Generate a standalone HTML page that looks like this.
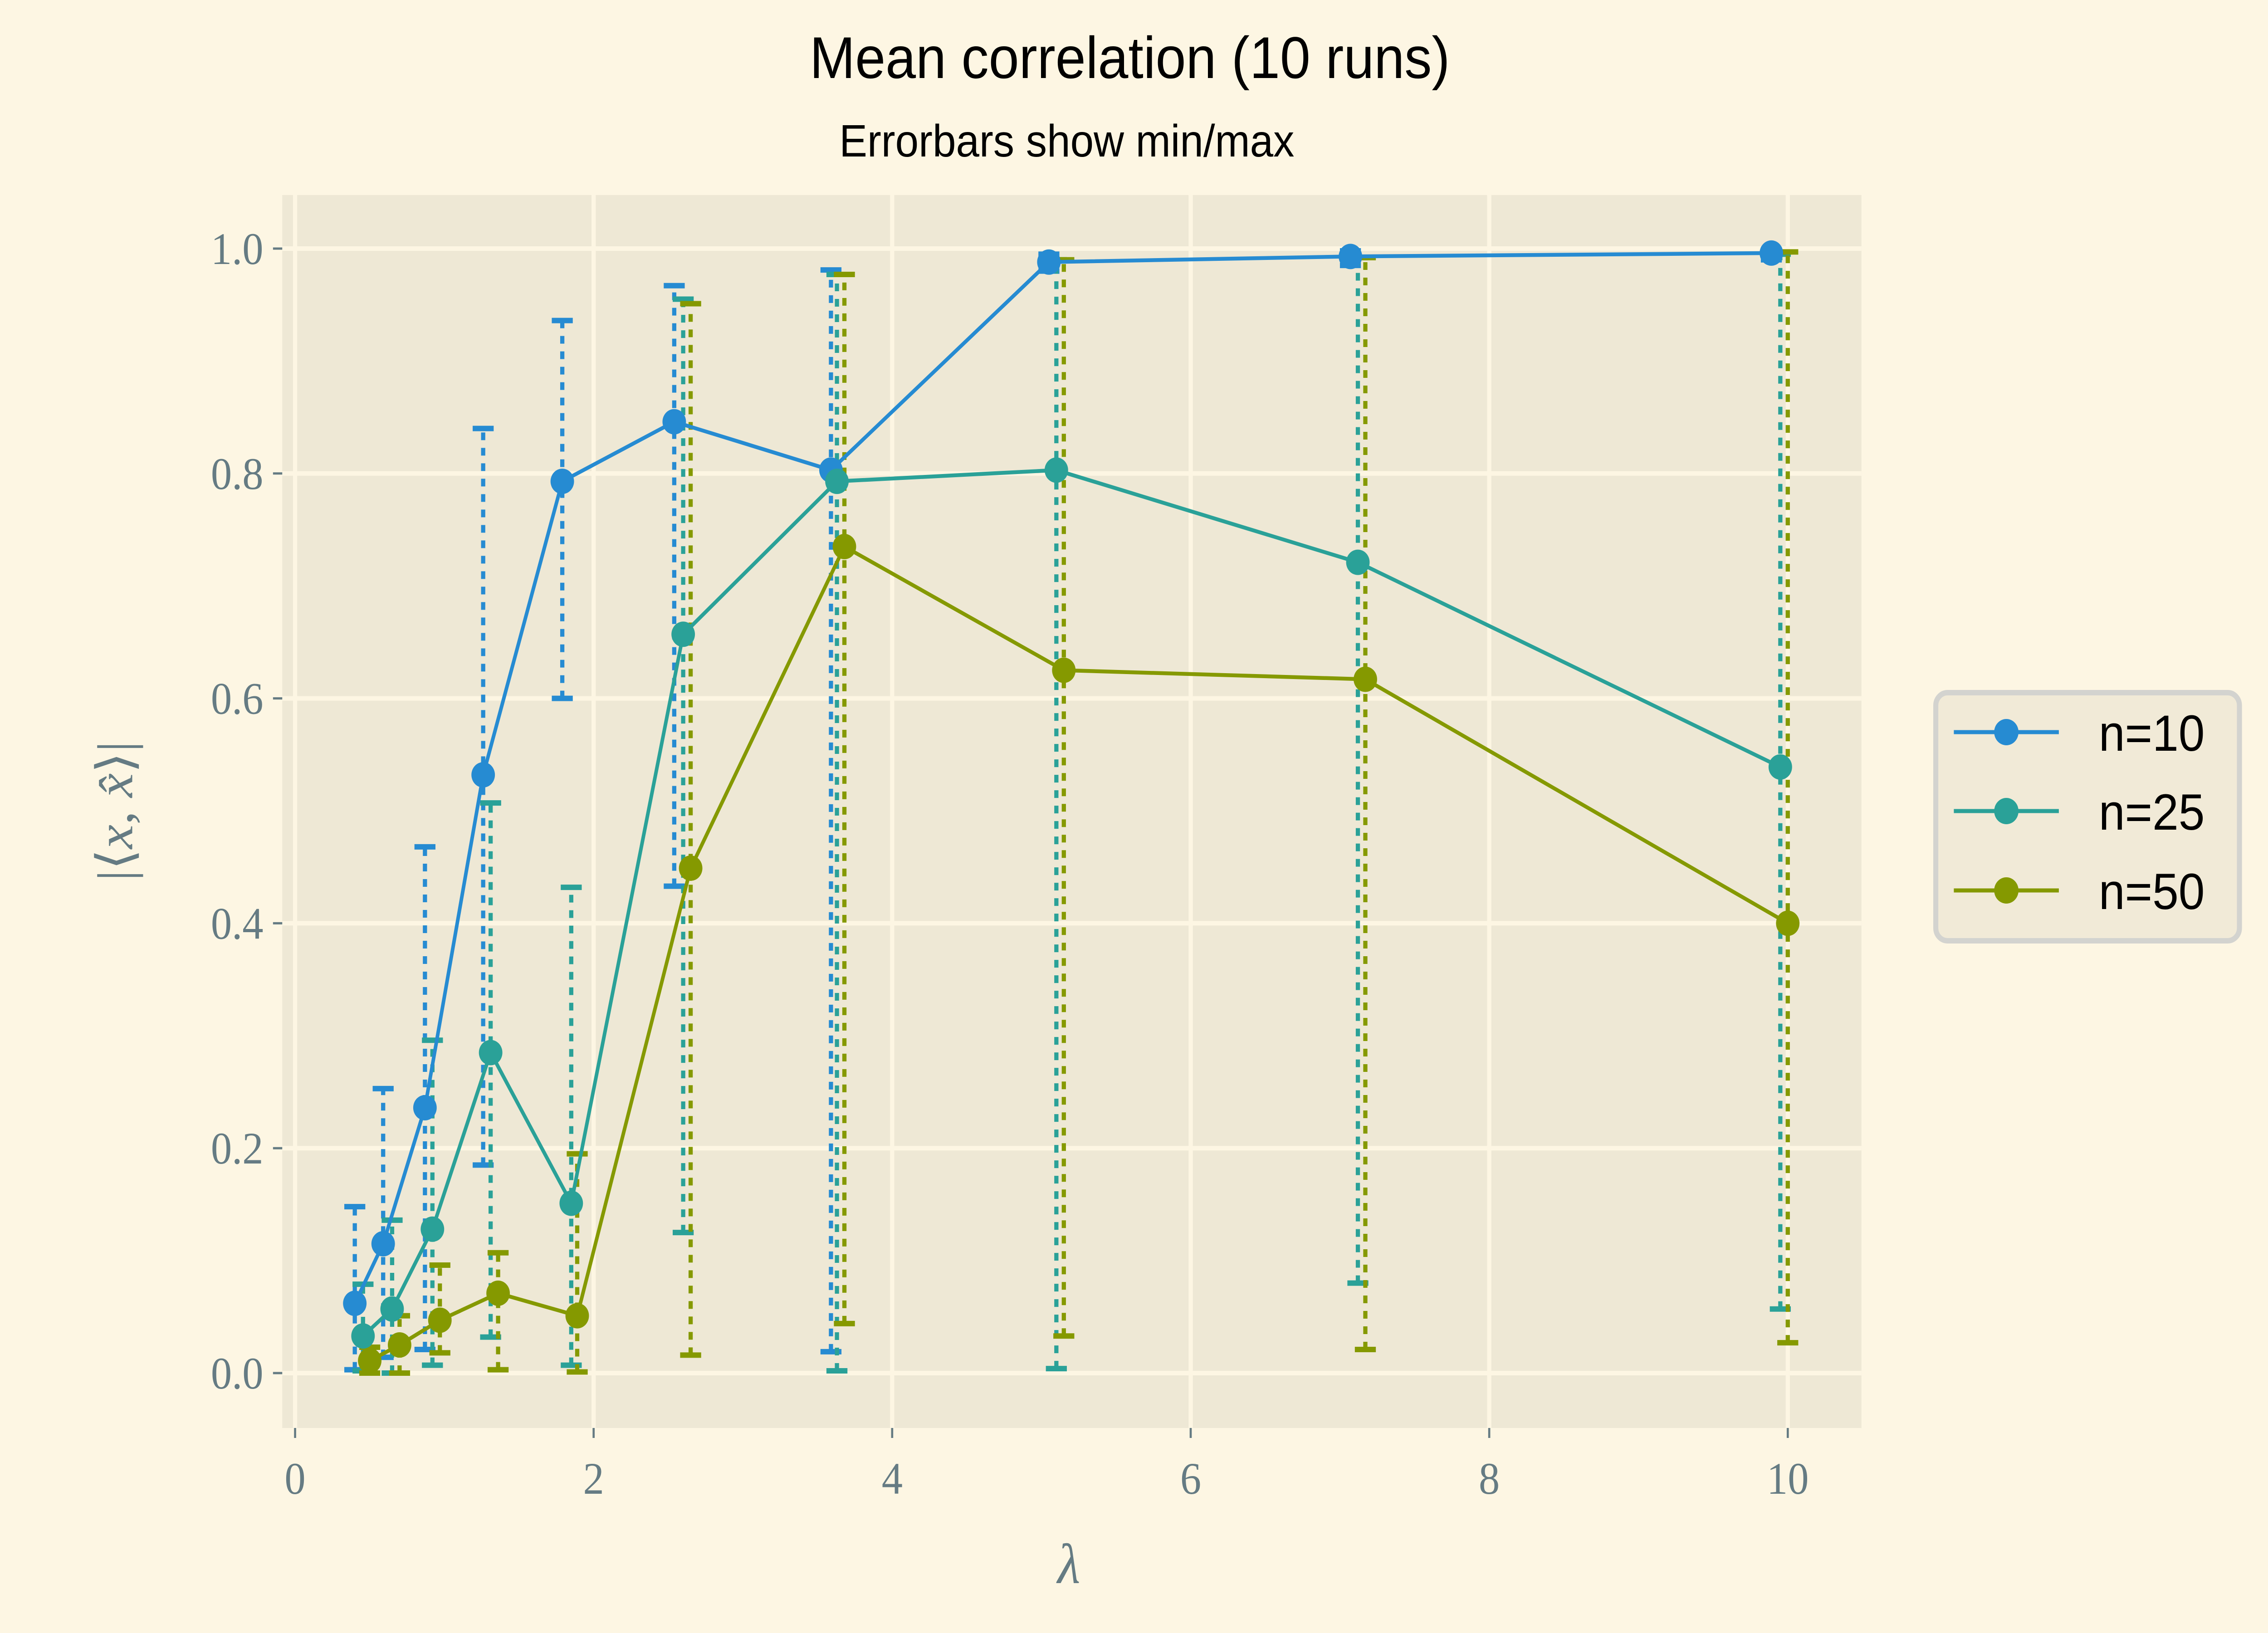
<!DOCTYPE html>
<html><head><meta charset="utf-8">
<style>
html,body{margin:0;padding:0;background:#fdf6e3;width:100%;height:100%;overflow:hidden;}
svg{display:block;width:100vw;height:100vh;}
</style></head>
<body>
<svg id="chart" viewBox="0 0 5400 3600" preserveAspectRatio="none" xmlns="http://www.w3.org/2000/svg">
  <rect x="0" y="0" width="5400" height="3600" fill="#fdf6e3"/>
  <text x="2690" y="172" text-anchor="middle" font-family="Liberation Sans, sans-serif" font-size="130" fill="#000">Mean correlation (10 runs)</text>
  <text x="2540" y="345" text-anchor="middle" font-family="Liberation Sans, sans-serif" font-size="100" fill="#000">Errorbars show min/max</text>
  <rect x="672" y="430" width="3760" height="2718" fill="#eee8d5"/>
  <g id="grid"></g>
  <g id="ticks"></g>
  <g id="errbars"></g>
  <g id="lines"></g>
  <text x="2545" y="3490" text-anchor="middle" font-family="Liberation Serif, serif" font-style="italic" font-size="125" fill="#657b83">λ</text>
  <text transform="translate(315,1788) rotate(-90)" text-anchor="middle" font-family="Liberation Serif, serif" font-size="120" fill="#657b83">|⟨<tspan font-style="italic">x</tspan>, <tspan font-style="italic">x̂</tspan>⟩|</text>
  <g>
    <rect x="4609" y="1527" width="723" height="547" rx="28" fill="#eee8d5" fill-opacity="0.85" stroke="#d3d3cf" stroke-width="12"/>
    <g id="legend-items"></g>
  </g>
</svg>
<script>
const seriesNames = ["n=10", "n=25", "n=50"];
const seriesColors = ["#268bd2", "#2aa198", "#859900"];
const lambda10 = [0.40, 0.59, 0.87, 1.26, 1.79, 2.54, 3.59, 5.05, 7.07, 9.89];
const lambda25 = [0.455, 0.65, 0.92, 1.31, 1.85, 2.60, 3.63, 5.10, 7.12, 9.95];
const lambda50 = [0.50, 0.70, 0.97, 1.36, 1.89, 2.65, 3.68, 5.15, 7.17, 10.0];
const mean10 = [0.062, 0.115, 0.236, 0.532, 0.793, 0.846, 0.803, 0.988, 0.993, 0.996];
const mean25 = [0.033, 0.057, 0.128, 0.285, 0.151, 0.657, 0.793, 0.803, 0.721, 0.539];
const mean50 = [0.011, 0.025, 0.047, 0.071, 0.051, 0.449, 0.735, 0.625, 0.617, 0.400];
const min10 = [0.003, 0.014, 0.021, 0.185, 0.600, 0.433, 0.019, 0.980, 0.985, 0.990];
const max10 = [0.148, 0.253, 0.468, 0.840, 0.936, 0.967, 0.981, 0.995, 0.998, 0.999];
const min25 = [0.002, 0.000, 0.007, 0.032, 0.007, 0.125, 0.002, 0.004, 0.080, 0.057];
const max25 = [0.079, 0.136, 0.296, 0.507, 0.432, 0.955, 0.977, 0.990, 0.992, 0.995];
const min50 = [0.000, 0.000, 0.018, 0.003, 0.001, 0.016, 0.044, 0.033, 0.021, 0.027];
const max50 = [0.023, 0.051, 0.096, 0.107, 0.195, 0.951, 0.977, 0.990, 0.992, 0.997];
const xTicks = [0, 2, 4, 6, 8, 10];
const xTickLabels = ["0", "2", "4", "6", "8", "10"];
const yTicks = [0, 0.2, 0.4, 0.6, 0.8, 1.0];
const yTickLabels = ["0.0", "0.2", "0.4", "0.6", "0.8", "1.0"];

const NS = "http://www.w3.org/2000/svg";
const PL = 672, PR = 4432, PT = 430, PB = 3148;
function xs(v){ return 702.6 + v * 355.4; }
function ys(v){ return 3027 - v * 2479; }
function mk(tag, attrs, parent){
  const e = document.createElementNS(NS, tag);
  for (const k in attrs) e.setAttribute(k, attrs[k]);
  parent.appendChild(e);
  return e;
}
const grid = document.getElementById("grid");
const ticks = document.getElementById("ticks");
xTicks.forEach((t, i) => {
  const x = xs(t);
  const g = mk("line", {x1:x, x2:x, y1:PT, y2:PB, stroke:"#fdf6e3", "stroke-width":10}, grid);
  
  
  const tk = mk("line", {x1:x, x2:x, y1:PB, y2:PB+22, stroke:"#657b83", "stroke-width":5}, ticks);
  
  
  const lb = mk("text", {x:x, y:PB+145, "text-anchor":"middle", "font-family":"Liberation Serif, serif", "font-size":100, fill:"#657b83"}, ticks);
  lb.textContent = xTickLabels[i];
  
  
});
yTicks.forEach((t, i) => {
  const y = ys(t);
  const g = mk("line", {x1:PL, x2:PR, y1:y, y2:y, stroke:"#fdf6e3", "stroke-width":10}, grid);
  
  
  const tk = mk("line", {x1:PL-22, x2:PL, y1:y, y2:y, stroke:"#657b83", "stroke-width":5}, ticks);
  
  
  const lb = mk("text", {x:PL-45, y:y+34, "text-anchor":"end", "font-family":"Liberation Serif, serif", "font-size":100, fill:"#657b83"}, ticks);
  lb.textContent = yTickLabels[i];
  
  
});

const xsArr = [lambda10, lambda25, lambda50];
const means = [mean10, mean25, mean50];
const mins = [min10, min25, min50];
const maxs = [max10, max25, max50];
const eb = document.getElementById("errbars");
const ln = document.getElementById("lines");
for (let s = 0; s < 3; s++){
  const c = seriesColors[s];
  for (let i = 0; i < xsArr[s].length; i++){
    const x = xs(xsArr[s][i]);
    const y1 = ys(mins[s][i]), y2 = ys(maxs[s][i]);
    const v = mk("line", {x1:x, x2:x, y1:y1, y2:y2, stroke:c, "stroke-width":10, "stroke-dasharray":"17 17"}, eb);
    
    
    [y1, y2].forEach(yy => {
      const cap = mk("line", {x1:x-25, x2:x+25, y1:yy, y2:yy, stroke:c, "stroke-width":12}, eb);
      
      
    });
  }
}
for (let s = 0; s < 3; s++){
  const c = seriesColors[s];
  const pts = xsArr[s].map((v, i) => xs(v) + "," + ys(means[s][i])).join(" ");
  const pl = mk("polyline", {points:pts, fill:"none", stroke:c, "stroke-width":8.5, "stroke-linejoin":"round"}, ln);
  
  
  xsArr[s].forEach((v, i) => {
    const m = mk("circle", {cx:xs(v), cy:ys(means[s][i]), r:28, fill:c}, ln);
    
    
  });
}
const leg = document.getElementById("legend-items");
const rowY = [1614, 1788, 1963];
for (let s = 0; s < 3; s++){
  const y = rowY[s];
  const l = mk("line", {x1:4652, x2:4902, y1:y, y2:y, stroke:seriesColors[s], "stroke-width":9}, leg);
  
  
  const m = mk("circle", {cx:4777, cy:y, r:29, fill:seriesColors[s]}, leg);
  
  
  const t = mk("text", {x:4997, y:y+41, "font-family":"Liberation Sans, sans-serif", "font-size":112, fill:"#000"}, leg);
  t.textContent = seriesNames[s];
  
  
}
</script>
</body></html>
